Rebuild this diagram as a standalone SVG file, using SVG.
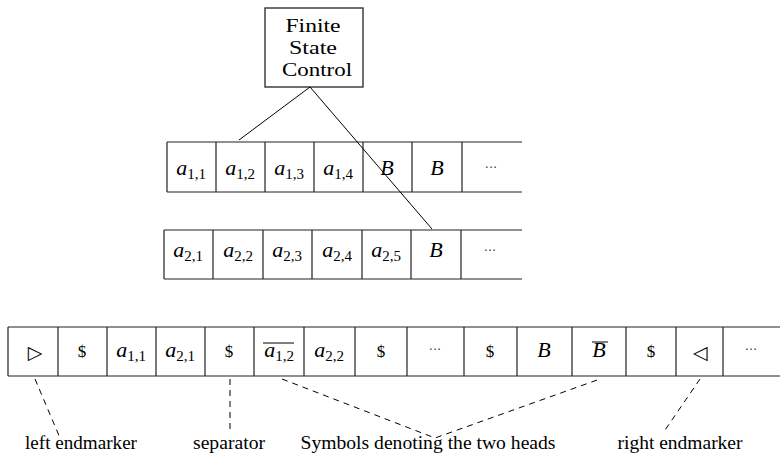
<svg xmlns="http://www.w3.org/2000/svg" width="780" height="455" viewBox="0 0 780 455">
<style>
.box{fill:#fff;stroke:#333;stroke-width:1.4}
.tl{stroke:#222;stroke-width:1.2;fill:none}
.conn{stroke:#000;stroke-width:1;fill:none}
.dash{stroke:#000;stroke-width:1;fill:none;stroke-dasharray:6,5}
.t{font-family:"Liberation Serif",serif;font-size:19px;fill:#000;text-anchor:middle}
.m{font-family:"Liberation Serif",serif;font-style:italic;font-size:22px;fill:#000;text-anchor:middle}
.sub{font-style:normal;font-size:15px}
.d{font-family:"Liberation Serif",serif;font-size:17px;fill:#000;text-anchor:middle}
.dots{font-family:"DejaVu Sans",sans-serif;font-size:13px;fill:#444;text-anchor:middle}
.sym{font-family:"DejaVu Sans",sans-serif;font-size:19px;fill:#000;text-anchor:middle}
.lab{font-family:"Liberation Serif",serif;font-size:18px;fill:#000;text-anchor:middle}
</style>

<g id="fsc">
<rect class="box" x="265" y="8" width="98" height="79"/>
<text class="t" x="313" y="32" textLength="55" lengthAdjust="spacingAndGlyphs">Finite</text>
<text class="t" x="313" y="54" textLength="48" lengthAdjust="spacingAndGlyphs">State</text>
<text class="t" x="317" y="76" textLength="70" lengthAdjust="spacingAndGlyphs">Control</text>
</g>

<g id="tape1">
<path class="tl" d="M167,142H522M167,192H522M167,142V192M216,142V192M265,142V192M314,142V192M363,142V192M412,142V192M462,142V192"/>
<text class="m" x="191" y="175">a<tspan class="sub" dy="4">1,1</tspan></text>
<text class="m" x="240" y="175">a<tspan class="sub" dy="4">1,2</tspan></text>
<text class="m" x="289" y="175">a<tspan class="sub" dy="4">1,3</tspan></text>
<text class="m" x="338" y="175">a<tspan class="sub" dy="4">1,4</tspan></text>
<text class="m" x="387" y="175">B</text>
<text class="m" x="437" y="175">B</text>
<text class="dots" x="491" y="172">···</text>
</g>

<g id="tape2">
<path class="tl" d="M164,230H522M164,279H522M164,230V279M213,230V279M263,230V279M312,230V279M362,230V279M411,230V279M461,230V279"/>
<text class="m" x="188" y="257">a<tspan class="sub" dy="4">2,1</tspan></text>
<text class="m" x="238" y="257">a<tspan class="sub" dy="4">2,2</tspan></text>
<text class="m" x="287" y="257">a<tspan class="sub" dy="4">2,3</tspan></text>
<text class="m" x="337" y="257">a<tspan class="sub" dy="4">2,4</tspan></text>
<text class="m" x="386" y="257">a<tspan class="sub" dy="4">2,5</tspan></text>
<text class="m" x="436" y="257">B</text>
<text class="dots" x="490" y="255">···</text>
</g>

<g id="tape3">
<path class="tl" d="M8,327H780M8,376H780M8,327V376M58,327V376M107,327V376M156,327V376M205,327V376M254,327V376M304,327V376M355,327V376M407,327V376M464,327V376M517,327V376M572,327V376M626,327V376M676,327V376M723,327V376"/>
<text class="sym" x="35" y="359">▷</text>
<text class="d" x="82" y="357">$</text>
<text class="m" x="131" y="357">a<tspan class="sub" dy="4">1,1</tspan></text>
<text class="m" x="180" y="357">a<tspan class="sub" dy="4">2,1</tspan></text>
<text class="d" x="229" y="357">$</text>
<text class="m" x="279" y="357">a<tspan class="sub" dy="4">1,2</tspan></text>
<line class="conn" x1="263" y1="343" x2="294" y2="343"/>
<text class="m" x="329" y="357">a<tspan class="sub" dy="4">2,2</tspan></text>
<text class="d" x="381" y="357">$</text>
<text class="dots" x="435" y="354">···</text>
<text class="d" x="490" y="357">$</text>
<text class="m" x="544" y="357">B</text>
<text class="m" x="599" y="357">B</text>
<line class="conn" x1="592" y1="342" x2="608" y2="342"/>
<text class="d" x="651" y="357">$</text>
<text class="sym" x="700" y="359">◁</text>
<text class="dots" x="751" y="354">···</text>
</g>

<g id="connectors">
<line class="conn" x1="310" y1="87" x2="239" y2="140"/>
<line class="conn" x1="310" y1="87" x2="432" y2="229"/>
<line class="dash" x1="35" y1="379" x2="60" y2="438"/>
<line class="dash" x1="230" y1="379" x2="230" y2="432"/>
<polyline class="dash" points="282,379 435,438 600,379"/>
<line class="dash" x1="700" y1="379" x2="663" y2="433"/>
</g>

<g id="labels">
<text class="lab" x="81" y="449" textLength="112" lengthAdjust="spacingAndGlyphs">left endmarker</text>
<text class="lab" x="229" y="449" textLength="72" lengthAdjust="spacingAndGlyphs">separator</text>
<text class="lab" x="428" y="449" textLength="255" lengthAdjust="spacingAndGlyphs">Symbols denoting the two heads</text>
<text class="lab" x="680" y="449" textLength="125" lengthAdjust="spacingAndGlyphs">right endmarker</text>
</g>
</svg>
